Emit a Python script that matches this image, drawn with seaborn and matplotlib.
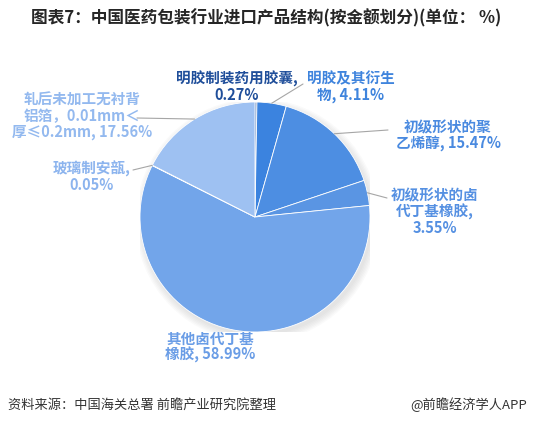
import matplotlib
matplotlib.use("Agg")
import matplotlib.pyplot as plt
import seaborn as sns
import numpy as np
import pandas as pd

# data (share of import value, %)
categories = [
    "明胶制装药用胶囊",
    "明胶及其衍生物",
    "初级形状的聚乙烯醇",
    "初级形状的卤代丁基橡胶",
    "其他卤代丁基橡胶",
    "玻璃制安瓿",
    "轧后未加工无衬背铝箔，0.01mm＜厚≤0.2mm",
]
shares = [0.27, 4.11, 15.47, 3.55, 58.99, 0.05, 17.56]
label_texts = [
    "明胶制装药用胶囊,\n0.27%",
    "明胶及其衍生\n物, 4.11%",
    "初级形状的聚\n乙烯醇, 15.47%",
    "初级形状的卤\n代丁基橡胶,\n3.55%",
    "其他卤代丁基\n橡胶, 58.99%",
    "玻璃制安瓿,\n0.05%",
    "轧后未加工无衬背\n铝箔，0.01mm＜\n厚≤0.2mm, 17.56%",
]

df = pd.DataFrame({"category": categories, "share": shares, "label": label_texts})

slice_colors = ["#1f4e9c", "#3b83df", "#4d8ee2", "#5a95e3", "#72a5ea", "#88b3ee", "#9ec1f2"]
label_colors = ["#1f4e9a", "#3f84dd", "#4a8ae0", "#5590e2", "#6a9de6", "#8cb4ee", "#93b9ef"]

# label anchor (pixels, top-left origin) and leader end point
label_pos = [(237, 87), (351, 87), (448, 136), (435, 212), (210, 347), (92, 177), (82, 116)]
leader_end = [None, (303, 84), (388, 130), (387, 198), None, (133, 170), (137, 118)]

sns.set_theme(style="white")
plt.rcParams["font.family"] = ["Noto Sans CJK SC", "DejaVu Sans"]

W, H = 533, 424
fig = plt.figure(figsize=(W / 100, H / 100), dpi=100)
fig.patch.set_facecolor("white")


def px(x, y):
    return x / W, 1 - y / H


cx, cy, r = 255, 217, 115
ax = fig.add_axes([(cx - r) / W, (H - cy - r) / H, 2 * r / W, 2 * r / H])

# soft shadow under the pie
for k in range(6):
    ax.add_patch(plt.Circle((0.02, -0.03), 1 + 0.012 * k, color="#7f7f7f",
                            alpha=0.035, linewidth=0, zorder=0))

wedges, _ = ax.pie(
    df["share"], colors=slice_colors, startangle=90, counterclock=False,
    radius=1, wedgeprops=dict(edgecolor="white", linewidth=0.6, zorder=2),
)
ax.set_xlim(-1, 1)
ax.set_ylim(-1, 1)
ax.axis("off")

for i, row in df.iterrows():
    w = wedges[i]
    mid = np.deg2rad((w.theta1 + w.theta2) / 2)
    rim_x = cx + r * np.cos(mid)
    rim_y = cy - r * np.sin(mid)
    tx, ty = label_pos[i]
    fig.text(*px(tx, ty), row["label"], ha="center", va="center",
             fontsize=10.5, fontweight="bold", color=label_colors[i], linespacing=1.0)
    if leader_end[i] is not None:
        ex, ey = leader_end[i]
        fig.add_artist(plt.Line2D([rim_x / W, ex / W], [1 - rim_y / H, 1 - ey / H],
                                  color="#a6a6a6", linewidth=0.8))

fig.text(*px(266, 18), "图表7：中国医药包装行业进口产品结构(按金额划分)(单位： %)",
         ha="center", va="center", fontsize=12, fontweight="bold", color="#262626")
fig.text(*px(8, 405), "资料来源：中国海关总署 前瞻产业研究院整理",
         ha="left", va="center", fontsize=9.5, color="#333333")
fig.text(*px(527, 405), "@前瞻经济学人APP",
         ha="right", va="center", fontsize=9.5, color="#333333")

fig.savefig("out.png", dpi=100)
